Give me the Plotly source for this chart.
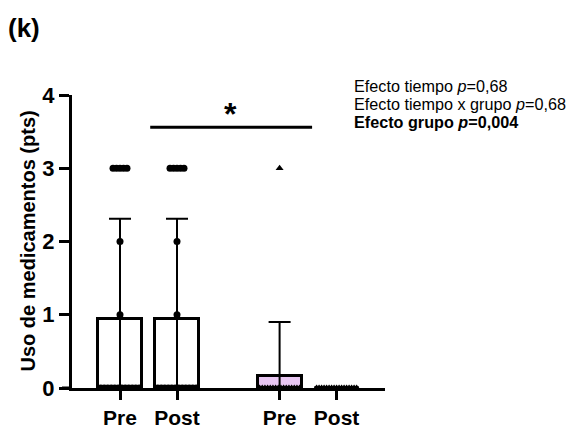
import plotly.graph_objects as go

# ---- data ----
categories = ["Pre", "Post", "Pre", "Post"]
means = [0.94, 0.94, 0.17, 0.0]
sds = [1.37, 1.37, 0.73, 0.0]
points_pre1 = [3, 3, 3, 3, 3, 2, 1] + [0] * 12
points_post1 = [3, 3, 3, 3, 3, 2, 1] + [0] * 12
points_pre2 = [3] + [0] * 16
points_post2 = [0] * 17
all_points = [points_pre1, points_post1, points_pre2, points_post2]
bar_fill = ["white", "white", "#E8C6F2", "#E8C6F2"]
marker_symbols = ["circle", "circle", "triangle-up", "triangle-up"]

# ---- layout constants ----
FONT = "Arial, Liberation Sans, sans-serif"
xpos = [0, 1, 2.8, 3.8]          # category positions on the x axis
BAR_W = 0.77
PX_PER_X = 57.0                  # pixels per x unit (for dot spreading)

fig = go.Figure()

fig.add_trace(go.Bar(
    x=xpos, y=means, width=BAR_W,
    marker=dict(color=bar_fill, line=dict(color="black", width=3)),
    error_y=dict(type="data", array=sds, arrayminus=means, symmetric=False,
                 color="black", thickness=2, width=11),
    showlegend=False, hoverinfo="skip",
))

# zero-height bars drawn as a thick line at their value
for xp, m in zip(xpos, means):
    if m == 0:
        fig.add_trace(go.Scatter(
            x=[xp - BAR_W / 2, xp + BAR_W / 2], y=[m, m], mode="lines",
            line=dict(color="black", width=3), showlegend=False, hoverinfo="skip"))

# individual points, spread horizontally within each value level
for xp, pts, sym in zip(xpos, all_points, marker_symbols):
    xs, ys = [], []
    for v in sorted(set(pts), reverse=True):
        n = pts.count(v)
        step_px = 3.5 if n * 3.5 <= 42 else 40.0 / max(n - 1, 1)
        for i in range(n):
            off = (i - (n - 1) / 2) * step_px / PX_PER_X
            xs.append(xp + off)
            ys.append(v)
    fig.add_trace(go.Scatter(
        x=xs, y=ys, mode="markers",
        marker=dict(symbol=sym, size=7, color="black"),
        showlegend=False, hoverinfo="skip"))

L, R, T, B = 72, 190, 95, 44
plot_w = 575 - L - R
plot_h = 432 - T - B

fig.update_layout(
    width=575, height=432,
    margin=dict(l=L, r=R, t=T, b=B, pad=0, autoexpand=False),
    paper_bgcolor="white", plot_bgcolor="white",
    font=dict(family=FONT, color="black"),
    bargap=0,
    xaxis=dict(
        range=[(L - 120) / PX_PER_X, (575 - R - 120) / PX_PER_X],
        tickmode="array", tickvals=xpos, ticktext=categories,
        showline=True, linecolor="black", linewidth=3,
        ticks="outside", ticklen=9, tickwidth=3, tickcolor="black",
        ticklabelstandoff=0,
        tickfont=dict(size=21, family=FONT, weight="bold"),
        showgrid=False, zeroline=False, fixedrange=True, automargin=False,
    ),
    yaxis=dict(
        range=[0, 4], tickvals=[0, 1, 2, 3, 4],
        showline=True, linecolor="black", linewidth=3,
        ticks="outside", ticklen=10, tickwidth=3, tickcolor="black",
        tickfont=dict(size=22, family=FONT, weight="bold"),
        showgrid=False, zeroline=False, fixedrange=True, automargin=False,
    ),
)

# x-axis line extending slightly left of the y axis
fig.add_shape(type="line", xref="paper", yref="y", x0=-10 / plot_w, x1=0, y0=0, y1=0,
              line=dict(color="black", width=3))

# significance bar and asterisk
fig.add_shape(type="line", xref="x", yref="y", x0=0.53, x1=3.37, y0=3.56, y1=3.56,
              line=dict(color="black", width=3))
fig.add_annotation(x=1.93, y=3.74, xref="x", yref="y", text="<b>*</b>", showarrow=False,
                   font=dict(size=32, family=FONT), yanchor="middle")

# y axis title
fig.add_annotation(x=(27 - L) / plot_w, y=0.5, xref="paper", yref="paper",
                   text="<b>Uso de medicamentos (pts)</b>", textangle=-90, showarrow=False,
                   font=dict(size=20, family=FONT), xanchor="center", yanchor="middle")

# panel label
fig.add_annotation(x=(6 - L) / plot_w, y=(432 - B - 28) / plot_h, xref="paper", yref="paper",
                   text="<b>(k)</b>", showarrow=False, font=dict(size=26, family=FONT),
                   xanchor="left", yanchor="middle")

# statistics text
stats_lines = ["Efecto tiempo <i>p</i>=0,68",
               "Efecto tiempo x grupo <i>p</i>=0,68",
               "<b>Efecto grupo <i>p</i>=0,004</b>"]
stats_y = [86, 104, 122]
for txt, yy in zip(stats_lines, stats_y):
    fig.add_annotation(x=(352 - L) / plot_w, y=(432 - B - yy) / plot_h, xref="paper", yref="paper",
                       text=txt, showarrow=False, font=dict(size=16.2, family=FONT),
                       xanchor="left", yanchor="middle")

fig.write_html("out.html")
